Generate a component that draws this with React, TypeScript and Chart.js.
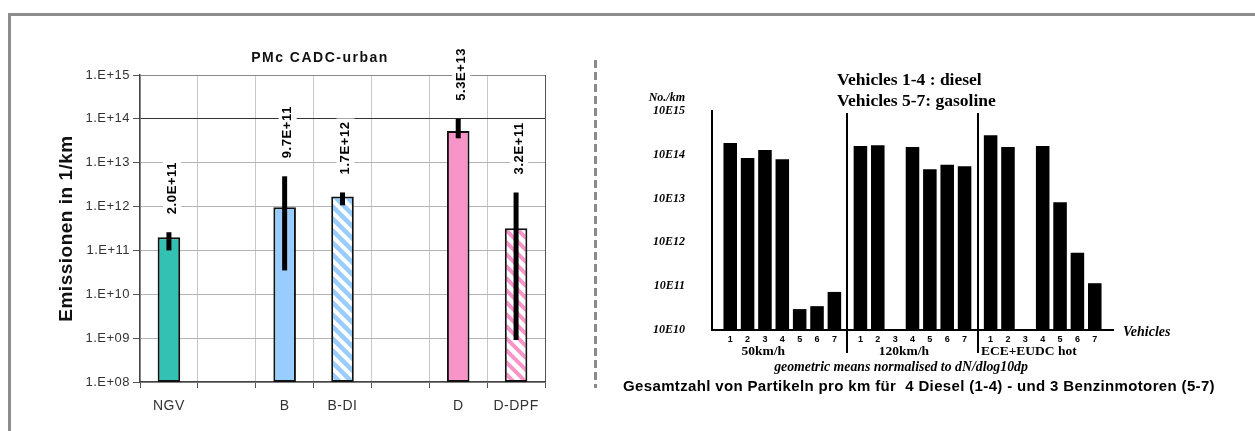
import React, { useEffect, useRef } from 'react';
import { Chart, registerables } from 'chart.js';

Chart.register(...registerables);

// ---------------- Left chart data ----------------
const leftCategories = ['NGV', '', 'B', 'B-DI', '', 'D', 'D-DPF'];
const leftValues: (number | null)[] = [2.0e11, null, 9.7e11, 1.7e12, null, 5.3e13, 3.2e11];
const leftErrLow: (number | null)[] = [1.0e11, null, 3.5e10, 1.07e12, null, 3.6e13, 9.1e8];
const leftErrHigh: (number | null)[] = [2.6e11, null, 4.9e12, 2.1e12, null, 1.0e14, 2.1e12];
const leftTickExponents = [8, 9, 10, 11, 12, 13, 14, 15];
const leftTitle = 'PMc CADC-urban';
const leftYTitle = 'Emissionen in 1/km';

// ---------------- Right chart data ----------------
const rightGroups = ['50km/h', '120km/h', 'ECE+EUDC hot'];
const rightVehicles = ['1', '2', '3', '4', '5', '6', '7'];
const right50kmh: (number | null)[] = [1.86e14, 8.5e13, 1.29e14, 7.9e13, 3.0e10, 3.5e10, 7.4e10];
const right120kmh: (number | null)[] = [1.58e14, 1.66e14, null, 1.51e14, 4.7e13, 5.9e13, 5.5e13];
const rightECE: (number | null)[] = [2.8e14, 1.51e14, null, 1.58e14, 8.3e12, 5.8e11, 1.17e11];
const rightTickExponents = [10, 11, 12, 13, 14, 15];
const rightTitleLines = ['Vehicles 1-4 : diesel', 'Vehicles 5-7: gasoline'];
const rightUnit = 'No./km';
const rightXTitle = 'Vehicles';
const rightNote = 'geometric means normalised to dN/dlog10dp';
const rightCaption = 'Gesamtzahl von Partikeln pro km für  4 Diesel (1-4) - und 3 Benzinmotoren (5-7)';

const SANS = "'Liberation Sans', Arial, sans-serif";
const SERIF = "'Liberation Serif', 'Times New Roman', serif";
const GROUP_STEP = 7.5;
const GROUP_LABEL_ANCHOR = [2.9, 3.5, 3.2];

function makeHatch(bg: string, fg: string) {
  const size = 12;
  const c = document.createElement('canvas');
  c.width = size;
  c.height = size;
  const g = c.getContext('2d')!;
  g.fillStyle = bg;
  g.fillRect(0, 0, size, size);
  g.strokeStyle = fg;
  g.lineWidth = 4;
  g.beginPath();
  for (const k of [-size, 0, size]) {
    g.moveTo(k - 2, -2);
    g.lineTo(k + size + 2, size + 2);
  }
  g.stroke();
  return g.createPattern(c, 'repeat')!;
}

const leftPlugin = {
  id: 'leftDecor',
  beforeDraw(chart: any) {
    chart.ctx.letterSpacing = '0.5px';
  },
  afterDatasetsDraw(chart: any) {
    const ctx = chart.ctx as CanvasRenderingContext2D;
    const y = chart.scales.y;
    const meta = chart.getDatasetMeta(0);
    ctx.save();
    ctx.strokeStyle = '#000';
    ctx.lineWidth = 5;
    leftValues.forEach((v, i) => {
      if (v == null) return;
      const bar = meta.data[i];
      const top = y.getPixelForValue(leftErrHigh[i]);
      const bot = y.getPixelForValue(leftErrLow[i]);
      ctx.beginPath();
      ctx.moveTo(bar.x, top);
      ctx.lineTo(bar.x, bot);
      ctx.stroke();
    });
    ctx.font = `bold 13px ${SANS}`;
    ctx.letterSpacing = '0.6px';
    ctx.textBaseline = 'middle';
    ctx.textAlign = 'left';
    leftValues.forEach((v, i) => {
      if (v == null) return;
      const bar = meta.data[i];
      const top = y.getPixelForValue(leftErrHigh[i]);
      const label = v.toExponential(1).toUpperCase();
      const w = ctx.measureText(label).width;
      ctx.save();
      ctx.translate(bar.x + 3, top - 18);
      ctx.rotate(-Math.PI / 2);
      ctx.fillStyle = '#fff';
      ctx.fillRect(-3, -9, w + 6, 18);
      ctx.fillStyle = '#000';
      ctx.fillText(label, 0, 0);
      ctx.restore();
    });
    ctx.restore();
  },
  afterDraw(chart: any) {
    const ctx = chart.ctx as CanvasRenderingContext2D;
    ctx.save();
    ctx.font = `bold 14px ${SANS}`;
    ctx.letterSpacing = '1.5px';
    ctx.fillStyle = '#111';
    ctx.textAlign = 'center';
    ctx.textBaseline = 'middle';
    ctx.fillText(leftTitle, 320, 58);
    // dashed separator
    ctx.letterSpacing = '0px';
    ctx.strokeStyle = '#8a8a8a';
    ctx.lineWidth = 3;
    ctx.setLineDash([8, 4]);
    ctx.beginPath();
    ctx.moveTo(595.5, 60);
    ctx.lineTo(595.5, 388);
    ctx.stroke();
    ctx.restore();
  },
};

const rightPlugin = {
  id: 'rightDecor',
  afterDraw(chart: any) {
    const ctx = chart.ctx as CanvasRenderingContext2D;
    const a = chart.chartArea;
    const x = chart.scales.x;
    ctx.save();
    ctx.strokeStyle = '#000';
    ctx.lineWidth = 2;
    for (let g = 1; g < rightGroups.length; g++) {
      const px = Math.round(x.getPixelForValue(g * GROUP_STEP + 0.25));
      ctx.beginPath();
      ctx.moveTo(px, a.top + 2);
      ctx.lineTo(px, a.bottom + 23);
      ctx.stroke();
    }
    ctx.fillStyle = '#000';
    ctx.textBaseline = 'middle';
    // unit label
    ctx.font = `italic bold 12px ${SERIF}`;
    ctx.textAlign = 'right';
    ctx.fillText(rightUnit, a.left - 27, a.top - 13);
    // title
    ctx.font = `bold 17.5px ${SERIF}`;
    ctx.textAlign = 'left';
    rightTitleLines.forEach((t, i) => ctx.fillText(t, a.left + 125, a.top - 31 + i * 21));
    // x title
    ctx.font = `italic bold 14px ${SERIF}`;
    ctx.fillText(rightXTitle, a.right + 10, a.bottom + 2);
    // group labels
    ctx.font = `bold 13.5px ${SERIF}`;
    ctx.textAlign = 'center';
    rightGroups.forEach((gname, g) => {
      ctx.fillText(gname, x.getPixelForValue(g * GROUP_STEP + GROUP_LABEL_ANCHOR[g]), a.bottom + 22);
    });
    // note
    ctx.font = `italic bold 13.8px ${SERIF}`;
    ctx.fillText(rightNote, a.left + 189, a.bottom + 37);
    // caption
    ctx.font = `bold 15px ${SANS}`;
    ctx.letterSpacing = '0.35px';
    ctx.fillText(rightCaption, a.left + 207, a.bottom + 57);
    ctx.restore();
  },
};

function leftConfig(): any {
  const teal = '#33C1B4';
  const blue = '#99CCFF';
  const pink = '#F894C7';
  const colors = [teal, 'transparent', blue, makeHatch(blue, '#ffffff'), 'transparent', pink, makeHatch('#ffffff', pink)];
  return {
    type: 'bar',
    data: {
      labels: leftCategories,
      datasets: [
        {
          data: leftValues,
          backgroundColor: colors,
          borderColor: '#111',
          borderWidth: 2,
          borderSkipped: false,
          categoryPercentage: 1,
          barPercentage: 0.39,
        },
      ],
    },
    options: {
      responsive: false,
      animation: false,
      layout: { padding: { left: 0, right: 55, top: 75, bottom: 0 } },
      plugins: { legend: { display: false }, tooltip: { enabled: false }, title: { display: false } },
      scales: {
        x: {
          type: 'category',
          offset: true,
          grid: {
            offset: true,
            color: (c: any) => (c.type === 'scale' ? '#555' : '#c8c8c8'),
            tickLength: 6,
            tickColor: '#555',
          },
          border: { color: '#444', width: 1.5 },
          ticks: { padding: 10, font: { family: SANS, size: 14 }, color: '#333', autoSkip: false, maxRotation: 0 },
          afterFit: (s: any) => {
            s.height = 49;
          },
        },
        y: {
          type: 'logarithmic',
          min: 1e8,
          max: 1e15,
          afterBuildTicks: (s: any) => {
            s.ticks = leftTickExponents.map((e) => ({ value: Math.pow(10, e) }));
          },
          afterFit: (s: any) => {
            s.width = 140;
          },
          grid: {
            color: (c: any) => {
              const e = Math.round(Math.log10(c.tick ? c.tick.value : 1));
              if (e === 14) return '#333';
              if (e === 15) return '#888';
              return '#b4b4b4';
            },
            tickLength: 7,
            tickColor: '#555',
          },
          border: { color: '#444', width: 1.5 },
          ticks: {
            padding: 3,
            font: { family: SANS, size: 13 },
            color: '#333',
            callback: (v: number) => '1.E+' + String(Math.round(Math.log10(v))).padStart(2, '0'),
          },
          title: {
            display: true,
            text: leftYTitle,
            font: { family: SANS, size: 19, weight: 'bold' },
            color: '#111',
            padding: { top: 55, bottom: 0 },
          },
        },
      },
    },
    plugins: [leftPlugin],
  };
}

function rightConfig(): any {
  const series = [right50kmh, right120kmh, rightECE];
  const points: { x: number; y: number }[] = [];
  const positions: number[] = [];
  series.forEach((vals, g) => {
    vals.forEach((v, i) => {
      const xv = g * GROUP_STEP + i + 1;
      positions.push(xv);
      if (v != null) points.push({ x: xv, y: v });
    });
  });
  return {
    type: 'bar',
    data: {
      datasets: [
        {
          data: points,
          backgroundColor: '#000',
          borderWidth: 0,
          categoryPercentage: 1,
          barPercentage: 0.78,
        },
      ],
    },
    options: {
      responsive: false,
      animation: false,
      layout: { padding: { left: 0, right: 142, top: 111, bottom: 0 } },
      plugins: { legend: { display: false }, tooltip: { enabled: false } },
      scales: {
        x: {
          type: 'linear',
          min: 0.5,
          max: 22.5,
          bounds: 'data',
          afterBuildTicks: (s: any) => {
            s.ticks = positions.map((p) => ({ value: p }));
          },
          afterFit: (s: any) => {
            s.height = 101;
          },
          grid: { display: false, drawTicks: false },
          border: { display: true, color: '#000', width: 2 },
          ticks: {
            autoSkip: false,
            maxRotation: 0,
            padding: 4,
            font: { family: SANS, size: 9, weight: 'bold' },
            color: '#000',
            callback: (_v: number, idx: number) => rightVehicles[idx % rightVehicles.length],
          },
        },
        y: {
          type: 'logarithmic',
          min: 1e10,
          max: 1e15,
          afterBuildTicks: (s: any) => {
            s.ticks = rightTickExponents.map((e) => ({ value: Math.pow(10, e) }));
          },
          afterFit: (s: any) => {
            s.width = 112;
          },
          grid: { display: false, drawTicks: false },
          border: { display: true, color: '#000', width: 2 },
          ticks: {
            padding: 27,
            font: { family: SERIF, size: 12, style: 'italic', weight: 'bold' },
            color: '#000',
            callback: (v: number) => '10E' + Math.round(Math.log10(v)),
          },
        },
      },
    },
    plugins: [rightPlugin],
  };
}

export default function App() {
  const leftRef = useRef<HTMLCanvasElement>(null);
  const rightRef = useRef<HTMLCanvasElement>(null);
  useEffect(() => {
    const left = new Chart(leftRef.current!, leftConfig());
    const right = new Chart(rightRef.current!, rightConfig());
    return () => {
      left.destroy();
      right.destroy();
    };
  }, []);
  return (
    <div style={{ position: 'absolute', left: 0, top: 0, width: 1255, height: 431, overflow: 'hidden', background: '#fff' }}>
      <div
        style={{
          position: 'absolute',
          left: 8,
          top: 13,
          width: 1300,
          height: 500,
          borderTop: '3px solid #8c8c8c',
          borderLeft: '3px solid #8c8c8c',
          boxSizing: 'border-box',
        }}
      />
      <canvas ref={leftRef} width={600} height={431} style={{ position: 'absolute', left: 0, top: 0, width: 600, height: 431 }} />
      <canvas ref={rightRef} width={655} height={431} style={{ position: 'absolute', left: 600, top: 0, width: 655, height: 431 }} />
    </div>
  );
}
